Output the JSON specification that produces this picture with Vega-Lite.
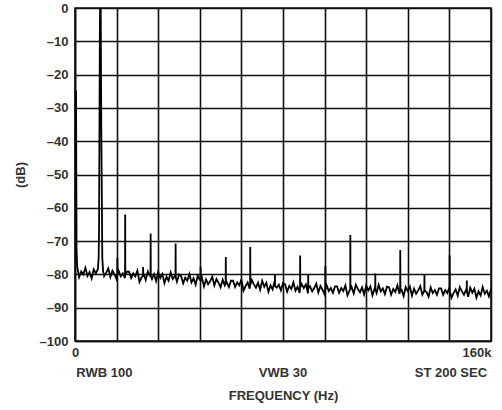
{
  "$schema": "https://vega.github.io/schema/vega-lite/v6.json",
  "width": 416,
  "height": 333,
  "autosize": "none",
  "padding": {"left": 75, "top": 8, "right": 11, "bottom": 69},
  "config": {
    "view": {"stroke": "#111", "strokeWidth": 1.6},
    "font": "Liberation Sans"
  },
  "datasets": {
    "spectrum": [
      {"f":0.4,"db":-24.8},{"f":0.5,"db":-50},{"f":0.6,"db":-72},{"f":0.8,"db":-77.5},
      {"f":1.6,"db":-80.8},{"f":2.4,"db":-79.1},{"f":3.2,"db":-80.0},{"f":4.0,"db":-78.0},
      {"f":4.8,"db":-80.5},{"f":5.6,"db":-79.3},{"f":6.4,"db":-81.2},{"f":7.2,"db":-78.5},{"f":8.0,"db":-79.7},
      {"f":8.8,"db":-78.4},{"f":9.1,"db":-75},{"f":9.25,"db":-66},{"f":9.55,"db":-8},{"f":9.65,"db":0},{"f":9.9,"db":0},
      {"f":10.1,"db":-35},{"f":10.3,"db":-54},{"f":10.5,"db":-75},{"f":10.8,"db":-79.0},
      {"f":11.2,"db":-80.5},{"f":12.0,"db":-79.5},{"f":12.8,"db":-78.2},{"f":13.6,"db":-80.8},{"f":14.4,"db":-78.9},
      {"f":15.2,"db":-80.0},{"f":16.0,"db":-81.4},
      {"f":16.25,"db":-79.8},{"f":16.3,"db":-75},{"f":16.35,"db":-79.8},
      {"f":16.8,"db":-78.9},{"f":17.6,"db":-80.6},{"f":18.4,"db":-79.7},{"f":19.2,"db":-81.1},
      {"f":19.25,"db":-80.0},{"f":19.3,"db":-62},{"f":19.35,"db":-80.0},
      {"f":20.0,"db":-79.2},{"f":20.8,"db":-79.2},{"f":21.6,"db":-81.1},{"f":22.4,"db":-79.7},{"f":23.2,"db":-80.6},
      {"f":24.0,"db":-78.9},{"f":24.8,"db":-82.3},{"f":25.6,"db":-80.9},
      {"f":26.15,"db":-80.5},{"f":26.2,"db":-77.8},{"f":26.25,"db":-80.5},
      {"f":26.4,"db":-79.8},{"f":27.2,"db":-81.7},{"f":28.0,"db":-79.1},{"f":28.8,"db":-80.4},
      {"f":29.05,"db":-80.5},{"f":29.1,"db":-67.7},{"f":29.15,"db":-80.5},
      {"f":29.6,"db":-81.4},{"f":30.4,"db":-79.9},{"f":31.2,"db":-82.0},{"f":32.0,"db":-79.3},
      {"f":32.8,"db":-81.1},{"f":33.6,"db":-79.9},{"f":34.4,"db":-82.6},{"f":35.2,"db":-80.7},{"f":36.0,"db":-81.9},
      {"f":36.8,"db":-79.4},{"f":37.6,"db":-81.4},{"f":38.4,"db":-80.5},
      {"f":38.65,"db":-80.9},{"f":38.7,"db":-70.7},{"f":38.75,"db":-80.9},
      {"f":39.2,"db":-82.2},{"f":40.0,"db":-80.0},
      {"f":40.8,"db":-80.5},{"f":41.6,"db":-82.7},{"f":42.4,"db":-81.0},{"f":43.2,"db":-81.9},{"f":44.0,"db":-79.9},
      {"f":44.8,"db":-82.4},{"f":45.6,"db":-81.2},{"f":46.4,"db":-83.1},{"f":47.2,"db":-80.4},{"f":48.0,"db":-81.6},
      {"f":48.25,"db":-81.8},{"f":48.3,"db":-77.8},{"f":48.35,"db":-81.8},
      {"f":48.8,"db":-80.9},{"f":49.6,"db":-83.6},{"f":50.4,"db":-81.5},{"f":51.2,"db":-83.0},{"f":52.0,"db":-82.0},
      {"f":52.8,"db":-80.7},{"f":53.6,"db":-83.3},{"f":54.4,"db":-81.4},{"f":55.2,"db":-82.5},{"f":56.0,"db":-83.9},
      {"f":56.8,"db":-81.6},{"f":57.6,"db":-83.3},
      {"f":57.95,"db":-82.7},{"f":58.0,"db":-74.8},{"f":58.05,"db":-82.7},
      {"f":58.4,"db":-82.4},{"f":59.2,"db":-83.8},{"f":60.0,"db":-81.9},
      {"f":60.8,"db":-81.9},{"f":61.6,"db":-83.8},{"f":62.4,"db":-82.4},{"f":63.2,"db":-83.3},{"f":64.0,"db":-81.6},
      {"f":64.8,"db":-84.9},{"f":65.6,"db":-83.5},{"f":66.4,"db":-82.4},{"f":67.2,"db":-84.3},
      {"f":67.35,"db":-83.1},{"f":67.4,"db":-71.8},{"f":67.45,"db":-83.1},
      {"f":68.0,"db":-81.7},{"f":68.8,"db":-83.0},{"f":69.6,"db":-84.0},{"f":70.4,"db":-82.5},{"f":71.2,"db":-84.6},{"f":72.0,"db":-81.9},
      {"f":72.8,"db":-83.7},{"f":73.6,"db":-82.5},{"f":74.4,"db":-85.2},{"f":75.2,"db":-83.3},{"f":76.0,"db":-84.5},
      {"f":76.8,"db":-82.0},
      {"f":76.85,"db":-83.5},{"f":76.9,"db":-80.2},{"f":76.95,"db":-83.5},
      {"f":77.6,"db":-84.0},{"f":78.4,"db":-83.1},{"f":79.2,"db":-84.8},{"f":80.0,"db":-82.6},
      {"f":80.8,"db":-83.0},{"f":81.6,"db":-85.2},{"f":82.4,"db":-83.5},{"f":83.2,"db":-84.4},{"f":84.0,"db":-82.4},
      {"f":84.8,"db":-84.9},{"f":85.6,"db":-83.7},{"f":86.4,"db":-85.6},
      {"f":86.55,"db":-83.9},{"f":86.6,"db":-74.3},{"f":86.65,"db":-83.9},
      {"f":87.2,"db":-82.9},{"f":88.0,"db":-84.1},
      {"f":88.8,"db":-83.0},{"f":89.6,"db":-85.7},
      {"f":89.65,"db":-84.2},{"f":89.7,"db":-80.2},{"f":89.75,"db":-84.2},
      {"f":90.4,"db":-83.6},{"f":91.2,"db":-85.1},{"f":92.0,"db":-84.1},
      {"f":92.8,"db":-82.8},{"f":93.6,"db":-85.4},{"f":94.4,"db":-83.5},{"f":95.2,"db":-84.6},{"f":96.0,"db":-86.0},
      {"f":96.25,"db":-84.4},{"f":96.3,"db":-77.5},{"f":96.35,"db":-84.4},
      {"f":96.8,"db":-83.3},{"f":97.6,"db":-85.0},{"f":98.4,"db":-84.1},{"f":99.2,"db":-85.5},{"f":100.0,"db":-83.6},
      {"f":100.8,"db":-83.6},{"f":101.6,"db":-85.5},{"f":102.4,"db":-84.1},{"f":103.2,"db":-85.0},{"f":104.0,"db":-83.3},
      {"f":104.8,"db":-86.3},{"f":105.6,"db":-84.9},
      {"f":105.85,"db":-84.5},{"f":105.9,"db":-68.2},{"f":105.95,"db":-84.5},
      {"f":106.4,"db":-83.8},{"f":107.2,"db":-85.7},{"f":108.0,"db":-83.1},
      {"f":108.8,"db":-84.4},{"f":109.6,"db":-85.4},{"f":110.4,"db":-83.9},{"f":111.2,"db":-86.0},{"f":112.0,"db":-83.3},
      {"f":112.8,"db":-84.8},{"f":113.6,"db":-83.6},{"f":114.4,"db":-86.3},{"f":115.2,"db":-84.4},
      {"f":115.45,"db":-84.6},{"f":115.5,"db":-79.7},{"f":115.55,"db":-84.6},
      {"f":116.0,"db":-85.6},{"f":116.8,"db":-83.1},{"f":117.6,"db":-85.1},{"f":118.4,"db":-84.2},{"f":119.2,"db":-85.9},{"f":120.0,"db":-83.7},
      {"f":120.8,"db":-83.9},{"f":121.6,"db":-86.1},{"f":122.4,"db":-84.4},{"f":123.2,"db":-85.3},{"f":124.0,"db":-83.3},
      {"f":124.8,"db":-85.8},
      {"f":125.05,"db":-84.8},{"f":125.1,"db":-72.7},{"f":125.15,"db":-84.8},
      {"f":125.6,"db":-84.6},{"f":126.4,"db":-86.5},{"f":127.2,"db":-83.8},{"f":128.0,"db":-85.0},
      {"f":128.8,"db":-83.7},{"f":129.6,"db":-86.4},{"f":130.4,"db":-84.3},{"f":131.2,"db":-85.8},{"f":132.0,"db":-84.8},
      {"f":132.8,"db":-83.5},{"f":133.6,"db":-86.1},
      {"f":134.35,"db":-84.9},{"f":134.4,"db":-80.2},{"f":134.45,"db":-84.9},
      {"f":135.2,"db":-85.3},{"f":136.0,"db":-86.7},
      {"f":136.8,"db":-83.9},{"f":137.6,"db":-85.6},{"f":138.4,"db":-84.7},{"f":139.2,"db":-86.1},{"f":140.0,"db":-84.2},
      {"f":140.8,"db":-84.2},{"f":141.6,"db":-86.1},{"f":142.4,"db":-84.7},{"f":143.2,"db":-85.6},{"f":144.0,"db":-83.9},
      {"f":144.05,"db":-85.0},{"f":144.1,"db":-74.3},{"f":144.15,"db":-85.0},
      {"f":144.8,"db":-87.0},{"f":145.6,"db":-85.6},{"f":146.4,"db":-84.5},{"f":147.2,"db":-86.4},{"f":148.0,"db":-83.8},
      {"f":148.8,"db":-85.1},{"f":149.6,"db":-86.1},{"f":150.4,"db":-84.6},
      {"f":150.65,"db":-85.2},{"f":150.7,"db":-81.8},{"f":150.75,"db":-85.2},
      {"f":151.2,"db":-86.7},{"f":152.0,"db":-84.0},
      {"f":152.8,"db":-85.5},{"f":153.6,"db":-84.3},{"f":154.4,"db":-87.0},{"f":155.2,"db":-85.1},{"f":156.0,"db":-86.3},
      {"f":156.8,"db":-83.8},{"f":157.6,"db":-85.8},{"f":158.4,"db":-84.9},{"f":159.2,"db":-86.6},{"f":160.0,"db":-84.4}
    ],
    "notes": [
      {"label": "RWB 100", "f": 11.3},
      {"label": "VWB 30", "f": 80},
      {"label": "ST 200 SEC", "f": 144.6}
    ]
  },
  "layer": [
    {
      "data": {"name": "spectrum"},
      "mark": {"type": "line", "color": "#000", "strokeWidth": 1.8, "clip": true},
      "encoding": {
        "x": {
          "field": "f",
          "type": "quantitative",
          "scale": {"domain": [0, 160], "nice": false, "zero": false},
          "axis": {
            "values": [0, 16, 32, 48, 64, 80, 96, 112, 128, 144, 160],
            "grid": true, "gridColor": "#111", "gridWidth": 1.6, "gridOpacity": 1,
            "ticks": false, "domainColor": "#111", "domainWidth": 1.6,
            "labelExpr": "datum.value == 0 ? '0' : (datum.value == 160 ? '160k' : '')",
            "labelAlign": {"condition": {"test": "datum.value == 160", "value": "right"}, "value": "center"},
            "labelFont": "Liberation Sans", "labelFontWeight": "bold", "labelFontSize": 13, "labelColor": "#333",
            "labelPadding": 5, "labelOverlap": false, "labelFlush": false,
            "title": "FREQUENCY (Hz)", "titleFont": "Liberation Sans", "titleFontSize": 13,
            "titleFontWeight": "bold", "titleColor": "#333", "titlePadding": 30
          }
        },
        "y": {
          "field": "db",
          "type": "quantitative",
          "scale": {"domain": [-100, 0], "nice": false, "zero": false},
          "axis": {
            "values": [-100, -90, -80, -70, -60, -50, -40, -30, -20, -10, 0],
            "grid": true, "gridColor": "#111", "gridWidth": 1.6, "gridOpacity": 1,
            "ticks": false, "domainColor": "#111", "domainWidth": 1.6,
            "labelExpr": "datum.value == 0 ? '0' : '–' + abs(datum.value)",
            "labelFont": "Liberation Sans", "labelFontWeight": "bold", "labelFontSize": 13, "labelColor": "#333",
            "labelPadding": 7, "labelOverlap": false,
            "title": "(dB)", "titleFont": "Liberation Sans", "titleFontSize": 13,
            "titleFontWeight": "bold", "titleColor": "#333", "titlePadding": 12
          }
        }
      }
    },
    {
      "data": {"name": "notes"},
      "mark": {"type": "text", "font": "Liberation Sans", "fontWeight": "bold", "fontSize": 13, "color": "#333", "baseline": "middle", "align": "center", "clip": false},
      "encoding": {
        "x": {
          "field": "f",
          "type": "quantitative",
          "axis": {
            "values": [0, 16, 32, 48, 64, 80, 96, 112, 128, 144, 160],
            "grid": true, "gridColor": "#111", "gridWidth": 1.6, "gridOpacity": 1,
            "ticks": false, "domainColor": "#111", "domainWidth": 1.6,
            "labelExpr": "datum.value == 0 ? '0' : (datum.value == 160 ? '160k' : '')",
            "labelAlign": {"condition": {"test": "datum.value == 160", "value": "right"}, "value": "center"},
            "labelFont": "Liberation Sans", "labelFontWeight": "bold", "labelFontSize": 13, "labelColor": "#333",
            "labelPadding": 5, "labelOverlap": false, "labelFlush": false,
            "title": "FREQUENCY (Hz)", "titleFont": "Liberation Sans", "titleFontSize": 13,
            "titleFontWeight": "bold", "titleColor": "#333", "titlePadding": 30
          }
        },
        "y": {
          "datum": -109.7,
          "type": "quantitative",
          "axis": {
            "values": [-100, -90, -80, -70, -60, -50, -40, -30, -20, -10, 0],
            "grid": true, "gridColor": "#111", "gridWidth": 1.6, "gridOpacity": 1,
            "ticks": false, "domainColor": "#111", "domainWidth": 1.6,
            "labelExpr": "datum.value == 0 ? '0' : '–' + abs(datum.value)",
            "labelFont": "Liberation Sans", "labelFontWeight": "bold", "labelFontSize": 13, "labelColor": "#333",
            "labelPadding": 7, "labelOverlap": false,
            "title": "(dB)", "titleFont": "Liberation Sans", "titleFontSize": 13,
            "titleFontWeight": "bold", "titleColor": "#333", "titlePadding": 12
          }
        },
        "text": {"field": "label"}
      }
    }
  ]
}
